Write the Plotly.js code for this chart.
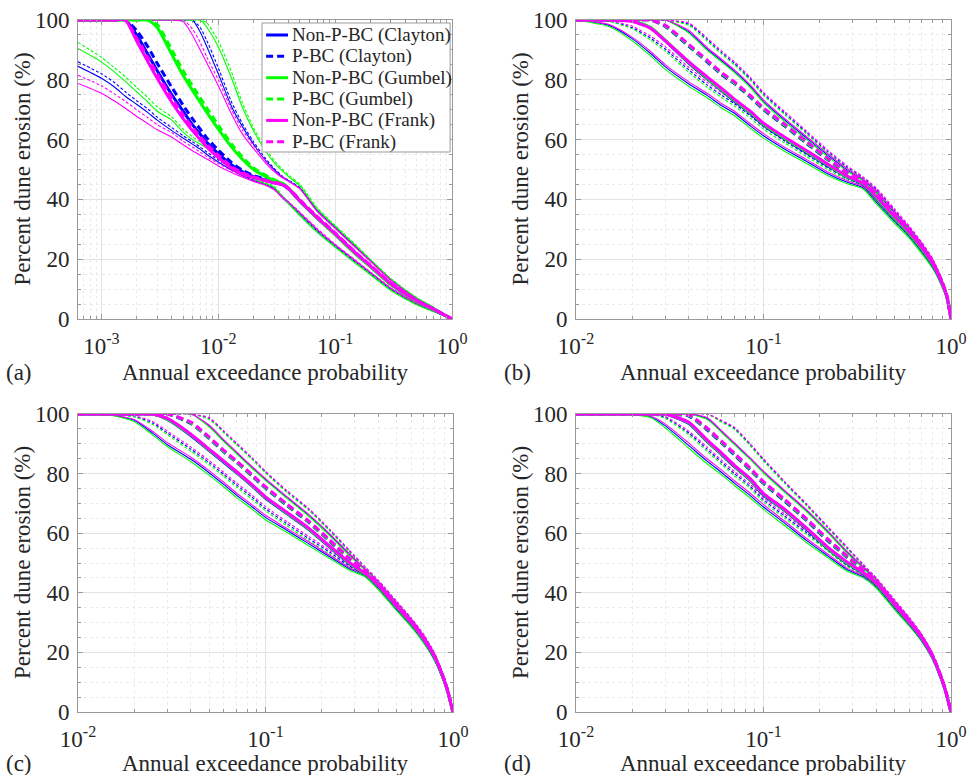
<!DOCTYPE html>
<html>
<head>
<meta charset="utf-8">
<script src="https://cdn.plot.ly/plotly-3.0.1.min.js"></script>
<style>
  html, body { margin: 0; padding: 0; background: #ffffff; }
  #fig { width: 967px; height: 775px; }
</style>
</head>
<body>
<div id="fig"></div>
<script>
// Annual exceedance probabilities at which the erosion curves are sampled
const AEP_A = [0.00063, 0.001, 0.0013, 0.0016, 0.002, 0.0025, 0.003, 0.004, 0.005, 0.006, 0.007, 0.008, 0.01, 0.013, 0.016, 0.02, 0.025, 0.03, 0.035, 0.04, 0.05, 0.07, 0.1, 0.15, 0.2, 0.3, 0.5, 0.7, 1.0];
const AEP_BCD = [0.01, 0.015, 0.02, 0.025, 0.03, 0.04, 0.05, 0.06, 0.07, 0.085, 0.1, 0.13, 0.17, 0.22, 0.28, 0.34, 0.4, 0.5, 0.6, 0.7, 0.8, 0.9, 0.95, 0.975, 1.0];

// ---- Panel (a): percent dune erosion (%) ----
// lower bounds
const A_CLA_NP_LO = [84.5, 80.5, 77.5, 74.5, 71.8, 69, 66.5, 63, 60.5, 58.5, 56.8, 55, 52.5, 49.8, 48, 46.3, 45, 43.6, 40.8, 38.6, 35, 29.5, 24.4, 19, 15.2, 9.9, 5, 2.6, 0];
const A_CLA_PB_LO = [86, 82, 79, 76, 73, 70.2, 67.5, 64, 61.3, 59.3, 57.5, 55.8, 53.2, 50.5, 48.5, 46.6, 45.3, 43.9, 41.2, 39, 35.3, 29.8, 24.7, 19.3, 15.5, 10.1, 5.1, 2.7, 0];
const A_GUM_NP_LO = [90.5, 86, 82.5, 79.5, 76, 72.5, 69.5, 66.5, 62.5, 60, 58.5, 57.2, 54.5, 51, 49, 46.8, 45.2, 44, 41, 38.5, 34.5, 29, 24, 18.5, 14.8, 9.5, 4.7, 2.4, 0];
const A_GUM_PB_LO = [92.5, 87.5, 84, 81, 77.5, 74, 71, 67.5, 63.5, 61, 59.3, 58, 55.3, 51.8, 49.5, 47.2, 45.6, 44.4, 41.5, 39, 35, 29.5, 24.5, 19, 15.2, 9.8, 4.9, 2.5, 0];
const A_FRA_NP_LO = [78.8, 75.5, 72.8, 70.5, 67.8, 65.3, 63.3, 60.8, 58.3, 56.3, 54.8, 53.5, 51.2, 49, 47.5, 46, 44.8, 43.2, 40.8, 39, 35.5, 30, 24.8, 19.4, 15.6, 10.3, 5.2, 2.7, 0];
const A_FRA_PB_LO = [81.5, 78, 75.2, 72.8, 70, 67.3, 65, 62.3, 59.5, 57.5, 55.8, 54.3, 52, 49.6, 48, 46.4, 45, 43.5, 41, 39.2, 35.7, 30.3, 25, 19.6, 15.8, 10.4, 5.3, 2.8, 0];
// medians
const A_CLA_NP_MED = [100, 100, 100, 100, 95, 88.5, 83, 75, 69.5, 65, 61.8, 59, 55.3, 51.5, 49.3, 47.6, 46.5, 45.6, 45, 43.4, 39.3, 33.8, 28.3, 21.8, 17.6, 11.6, 5.9, 3.1, 0];
const A_CLA_PB_MED = [100, 100, 100, 100, 96.5, 91, 85.5, 77.5, 71.5, 67, 63.5, 60.5, 56.5, 52.3, 49.8, 48, 46.8, 45.8, 45.2, 43.7, 39.6, 34.1, 28.6, 22.1, 17.8, 11.8, 6, 3.2, 0];
const A_GUM_NP_MED = [100, 100, 100, 100, 100, 100, 97.5, 88.5, 81.5, 76.5, 72.5, 69, 63.5, 57.5, 53.5, 50, 47.8, 46.3, 45.4, 43.6, 39.4, 33.8, 28.2, 21.7, 17.5, 11.5, 5.8, 3.1, 0];
const A_GUM_PB_MED = [100, 100, 100, 100, 100, 100, 98.5, 90, 83, 78, 74, 70.5, 64.8, 58.5, 54.3, 50.5, 48.2, 46.6, 45.6, 43.8, 39.6, 34, 28.4, 21.9, 17.6, 11.6, 5.9, 3.1, 0];
const A_FRA_NP_MED = [100, 100, 100, 100, 93, 86, 80.5, 72.5, 67, 63, 60, 57.5, 54, 50.5, 48.5, 47.3, 46.3, 45.5, 45, 43.5, 39.5, 34, 28.5, 22, 17.8, 11.8, 6, 3.2, 0];
const A_FRA_PB_MED = [100, 100, 100, 100, 94, 87.5, 82, 74, 68.3, 64.2, 61, 58.4, 54.8, 51, 49, 47.6, 46.5, 45.7, 45.2, 43.8, 39.8, 34.3, 28.8, 22.3, 18, 12, 6.1, 3.3, 0];
// upper bounds
const A_CLA_NP_HI = [100, 100, 100, 100, 100, 100, 100, 100, 100, 100, 96, 91, 82, 71, 64.5, 58.5, 53.3, 50, 47.6, 46.2, 43.7, 36.3, 30.6, 24.1, 19.6, 13.1, 6.8, 3.6, 0];
const A_CLA_PB_HI = [100, 100, 100, 100, 100, 100, 100, 100, 100, 100, 97.5, 93, 84, 72.5, 65.5, 59.3, 54, 50.4, 47.9, 46.4, 43.9, 36.5, 30.8, 24.3, 19.7, 13.2, 6.9, 3.7, 0];
const A_GUM_NP_HI = [100, 100, 100, 100, 100, 100, 100, 100, 100, 100, 100, 97.5, 91, 80.5, 71, 63, 56.5, 52.3, 49.7, 47.6, 44.5, 36.8, 31, 24.5, 19.8, 13.3, 7, 3.8, 0];
const A_GUM_PB_HI = [100, 100, 100, 100, 100, 100, 100, 100, 100, 100, 100, 99, 93, 82.5, 72.5, 64, 57.3, 53, 50.2, 48.1, 45, 37.2, 31.3, 24.8, 20, 13.5, 7.1, 3.9, 0];
const A_FRA_NP_HI = [100, 100, 100, 100, 100, 100, 100, 100, 99.5, 95, 90, 85.5, 78, 68.5, 62, 57, 52.5, 49.3, 47.3, 46, 43.5, 36, 30.3, 23.8, 19.3, 12.9, 6.6, 3.5, 0];
const A_FRA_PB_HI = [100, 100, 100, 100, 100, 100, 100, 100, 100, 97, 92.5, 87.5, 80, 70, 63.3, 58, 53.2, 49.8, 47.6, 46.2, 43.6, 36.2, 30.5, 24, 19.5, 13, 6.7, 3.6, 0];

// ---- Panel (b) ----
const B_CLA_NP_LO = [100, 98.2, 93.7, 88.8, 84.3, 78.6, 74.8, 71.3, 68.8, 64.6, 61.3, 56.8, 52.7, 48.6, 45.7, 43.9, 39.1, 32.6, 27.5, 22.3, 17.2, 10.8, 7, 3.6, 0];
const B_CLA_PB_LO = [100, 99.6, 97.4, 93.9, 90.2, 83.3, 78.3, 74.8, 72, 68, 64.3, 59.5, 55, 50.6, 47, 44.6, 40, 33.3, 28.1, 22.9, 17.7, 11.2, 7.3, 3.8, 0];
const B_GUM_NP_LO = [100, 97.8, 93, 88, 83.5, 77.8, 74, 70.5, 68, 63.8, 60.5, 56, 52, 48, 45.2, 43.5, 38.5, 32, 27, 21.8, 16.8, 10.5, 6.8, 3.5, 0];
const B_GUM_PB_LO = [100, 99.5, 97, 93.3, 89.5, 82.5, 77.5, 74, 71.2, 67.2, 63.5, 58.8, 54.3, 50, 46.5, 44.3, 39.5, 32.8, 27.7, 22.5, 17.4, 11, 7.1, 3.7, 0];
const B_FRA_NP_LO = [100, 98.5, 94.2, 89.5, 85, 79.3, 75.5, 72, 69.5, 65.3, 62, 57.4, 53.3, 49.2, 46.2, 44.3, 39.8, 33.2, 28.1, 22.9, 17.7, 11.2, 7.3, 3.8, 0];
const B_FRA_PB_LO = [100, 99.8, 97.9, 94.6, 91, 84.2, 79.2, 75.7, 72.8, 68.8, 65.1, 60.3, 55.7, 51.2, 47.5, 45, 40.6, 33.9, 28.7, 23.4, 18.1, 11.5, 7.5, 3.9, 0];
const B_CLA_NP_MED = [100, 100, 99.7, 97.4, 93, 85.6, 80.4, 76.4, 72.9, 68.9, 64.9, 60.2, 55.7, 51.3, 47.4, 45.1, 40.4, 33.6, 28.4, 23.2, 18, 11.5, 7.4, 3.9, 0];
const B_CLA_PB_MED = [100, 100, 100, 100, 97.8, 91.2, 86, 81.7, 78.7, 74.2, 70, 64.5, 58.7, 53.3, 48.6, 45.9, 41.3, 34.5, 29.1, 23.9, 18.6, 11.9, 7.7, 4, 0];
const B_GUM_NP_MED = [100, 100, 99.7, 97.5, 93.2, 85.8, 80.6, 76.6, 73.1, 69.1, 65.1, 60.4, 55.9, 51.5, 47.5, 45.2, 40.6, 33.8, 28.6, 23.4, 18.2, 11.6, 7.5, 3.9, 0];
const B_GUM_PB_MED = [100, 100, 100, 100, 98, 91.5, 86.3, 82, 79, 74.5, 70.3, 64.8, 59, 53.5, 48.8, 46, 41.5, 34.7, 29.3, 24.1, 18.8, 12, 7.8, 4.1, 0];
const B_FRA_NP_MED = [100, 100, 99.5, 97.2, 93, 86, 81, 77, 73.5, 69.5, 65.5, 60.8, 56.3, 51.8, 47.8, 45.4, 41, 34.3, 29, 23.8, 18.5, 11.8, 7.7, 4, 0];
const B_FRA_PB_MED = [100, 100, 100, 100, 98.2, 91.8, 86.6, 82.3, 79.3, 74.8, 70.6, 65.1, 59.3, 53.8, 49, 46.2, 41.8, 35, 29.6, 24.4, 19, 12.2, 8, 4.2, 0];
const B_CLA_NP_HI = [100, 100, 100, 100, 100, 96, 90.3, 86.3, 82.8, 77.8, 72.8, 66.5, 60.5, 54.8, 49.8, 46.5, 42.5, 35.5, 30, 24.7, 19.3, 12.4, 8.1, 4.3, 0];
const B_CLA_PB_HI = [100, 100, 100, 100, 100, 98.6, 93.5, 89, 85.5, 80.3, 75.3, 68.8, 62.3, 56, 50.8, 47.2, 43.3, 36.3, 30.6, 25.2, 19.8, 12.8, 8.4, 4.4, 0];
const B_GUM_NP_HI = [100, 100, 100, 100, 100, 95.6, 89.9, 85.9, 82.4, 77.4, 72.4, 66, 60, 54.3, 49.4, 46.2, 42, 35, 29.6, 24.3, 19, 12.2, 7.9, 4.2, 0];
const B_GUM_PB_HI = [100, 100, 100, 100, 100, 98.2, 93, 88.5, 85, 79.8, 74.8, 68.3, 61.8, 55.6, 50.4, 46.9, 42.8, 35.8, 30.2, 24.9, 19.5, 12.6, 8.2, 4.3, 0];
const B_FRA_NP_HI = [100, 100, 100, 100, 100, 96.5, 90.8, 86.8, 83.3, 78.3, 73.3, 67, 61, 55.3, 50.3, 46.8, 43, 36, 30.4, 25.1, 19.7, 12.7, 8.3, 4.4, 0];
const B_FRA_PB_HI = [100, 100, 100, 100, 100, 99, 94, 89.5, 86, 80.8, 75.8, 69.3, 62.8, 56.5, 51.2, 47.5, 43.8, 36.8, 31, 25.6, 20.1, 13, 8.5, 4.5, 0];

// ---- Panel (c) ----
const C_CLA_NP_LO = [100, 99.7, 97.8, 93.6, 89.7, 84.8, 80.3, 76.3, 72.8, 68.8, 65.3, 61, 56.5, 52.1, 48.1, 45.7, 41.5, 34.5, 29, 23.4, 17.4, 9.8, 5.2, 2.4, 0];
const C_CLA_PB_LO = [100, 100, 99.2, 97, 93.6, 88.2, 83.7, 79.7, 76.2, 72, 68.2, 63.2, 58.2, 53.6, 49, 46, 41.9, 34.9, 29.4, 23.8, 17.8, 10, 5.3, 2.5, 0];
const C_GUM_NP_LO = [100, 99.6, 97.4, 93, 89, 84, 79.5, 75.5, 72, 68, 64.5, 60.3, 55.8, 51.5, 47.6, 45.3, 41, 34, 28.5, 23, 17, 9.5, 5, 2.3, 0];
const C_GUM_PB_LO = [100, 100, 99, 96.5, 93, 87.5, 83, 79, 75.5, 71.3, 67.5, 62.5, 57.5, 53, 48.5, 45.7, 41.5, 34.5, 29, 23.5, 17.5, 9.8, 5.2, 2.4, 0];
const C_FRA_NP_LO = [100, 99.8, 98.1, 94.2, 90.4, 85.5, 81, 77, 73.5, 69.5, 66, 61.6, 57.1, 52.6, 48.5, 46, 42, 35, 29.5, 23.9, 17.8, 10.1, 5.4, 2.5, 0];
const C_FRA_PB_LO = [100, 100, 99.4, 97.5, 94.2, 88.9, 84.4, 80.4, 76.9, 72.7, 68.9, 63.9, 58.9, 54.2, 49.5, 46.4, 42.3, 35.3, 29.8, 24.2, 18.1, 10.2, 5.5, 2.6, 0];
const C_CLA_NP_MED = [100, 100, 100, 100, 98.2, 92.8, 87.8, 83.8, 80.3, 75.8, 71.8, 66.6, 61.3, 55.3, 49.8, 46.2, 42.1, 35.1, 29.5, 24, 18, 10.2, 5.5, 2.6, 0];
const C_CLA_PB_MED = [100, 100, 100, 100, 100, 96.8, 91.8, 87.3, 83.8, 79.1, 75.1, 69.3, 63.6, 57.3, 51.1, 46.9, 42.6, 35.6, 29.9, 24.4, 18.4, 10.5, 5.7, 2.7, 0];
const C_GUM_NP_MED = [100, 100, 100, 100, 98.3, 93, 88, 84, 80.5, 76, 72, 66.8, 61.5, 55.5, 50, 46.3, 42.3, 35.3, 29.7, 24.2, 18.2, 10.3, 5.6, 2.6, 0];
const C_GUM_PB_MED = [100, 100, 100, 100, 100, 97, 92, 87.5, 84, 79.3, 75.3, 69.5, 63.8, 57.5, 51.3, 47, 42.8, 35.8, 30.1, 24.6, 18.5, 10.6, 5.8, 2.7, 0];
const C_FRA_NP_MED = [100, 100, 100, 100, 98.5, 93.2, 88.2, 84.2, 80.7, 76.2, 72.2, 67, 61.7, 55.7, 50.2, 46.5, 42.5, 35.5, 29.9, 24.4, 18.4, 10.5, 5.7, 2.7, 0];
const C_FRA_PB_MED = [100, 100, 100, 100, 100, 97.3, 92.3, 87.8, 84.3, 79.6, 75.6, 69.8, 64.1, 57.8, 51.6, 47.2, 43, 36, 30.3, 24.8, 18.7, 10.8, 5.9, 2.8, 0];
const C_CLA_NP_HI = [100, 100, 100, 100, 100, 100, 96, 91, 87, 82, 78, 72, 66, 59.5, 52.8, 47.8, 43.5, 36.5, 30.8, 25.2, 19, 11, 6, 2.8, 0];
const C_CLA_PB_HI = [100, 100, 100, 100, 100, 100, 98.5, 94, 90, 85, 80.5, 74, 68, 61, 54, 48.5, 44, 37, 31.3, 25.7, 19.4, 11.3, 6.2, 3, 0];
const C_GUM_NP_HI = [100, 100, 100, 100, 100, 100, 95.7, 90.7, 86.7, 81.7, 77.7, 71.7, 65.7, 59.2, 52.5, 47.6, 43.3, 36.3, 30.6, 25, 18.8, 10.9, 5.9, 2.8, 0];
const C_GUM_PB_HI = [100, 100, 100, 100, 100, 100, 98.2, 93.7, 89.7, 84.7, 80.2, 73.7, 67.7, 60.7, 53.7, 48.3, 43.8, 36.8, 31.1, 25.5, 19.2, 11.1, 6.1, 2.9, 0];
const C_FRA_NP_HI = [100, 100, 100, 100, 100, 100, 96.3, 91.3, 87.3, 82.3, 78.3, 72.3, 66.3, 59.8, 53.1, 48, 43.7, 36.7, 31, 25.4, 19.2, 11.2, 6.1, 2.9, 0];
const C_FRA_PB_HI = [100, 100, 100, 100, 100, 100, 98.8, 94.3, 90.3, 85.3, 80.8, 74.3, 68.3, 61.3, 54.3, 48.7, 44.2, 37.2, 31.5, 25.9, 19.6, 11.5, 6.3, 3.1, 0];

// ---- Panel (d) ----
const D_CLA_NP_LO = [100, 100, 99.9, 99.1, 96, 89.4, 84.2, 80.3, 76.8, 72.6, 68.8, 63.3, 57.5, 52.4, 47.7, 45.4, 41.9, 34.8, 29.2, 23.9, 17.8, 9.8, 5.2, 2.4, 0];
const D_CLA_PB_LO = [100, 100, 100, 100, 98.8, 93.6, 88.2, 83.7, 80, 75.7, 71.2, 65.7, 60.1, 54.5, 49.2, 46.1, 42.3, 35.1, 29.5, 24.1, 18, 10, 5.3, 2.5, 0];
const D_GUM_NP_LO = [100, 100, 99.8, 98.8, 95.3, 88.5, 83.3, 79.5, 76, 71.8, 68, 62.5, 56.8, 51.8, 47.2, 45, 41.5, 34.3, 28.8, 23.5, 17.5, 9.5, 5, 2.3, 0];
const D_GUM_PB_LO = [100, 100, 100, 100, 98.5, 93, 87.5, 83, 79.3, 75, 70.5, 65, 59.5, 54, 48.8, 45.8, 42, 34.8, 29.2, 23.8, 17.8, 9.8, 5.2, 2.4, 0];
const D_FRA_NP_LO = [100, 100, 100, 99.3, 96.6, 90.2, 85, 81.1, 77.6, 73.4, 69.6, 64, 58.2, 53, 48.2, 45.8, 42.3, 35.2, 29.6, 24.3, 18.1, 10, 5.3, 2.5, 0];
const D_FRA_PB_LO = [100, 100, 100, 100, 99.1, 94.2, 88.9, 84.4, 80.7, 76.4, 71.9, 66.4, 60.7, 55, 49.6, 46.4, 42.6, 35.4, 29.8, 24.4, 18.3, 10.2, 5.4, 2.6, 0];
const D_CLA_NP_MED = [100, 100, 100, 100, 100, 96.8, 90.8, 86.3, 82.3, 77.8, 72.8, 67.6, 61.3, 54.8, 49.8, 46.5, 42.8, 35.6, 29.8, 24.4, 18.2, 10.2, 5.5, 2.6, 0];
const D_CLA_PB_MED = [100, 100, 100, 100, 100, 99.3, 94.7, 90.2, 86.2, 81.2, 76.7, 70.7, 64.2, 57.5, 51.8, 47.3, 43.3, 36.1, 30.3, 24.8, 18.5, 10.4, 5.6, 2.7, 0];
const D_GUM_NP_MED = [100, 100, 100, 100, 100, 97, 91, 86.5, 82.5, 78, 73, 67.8, 61.5, 55, 50, 46.6, 43, 35.8, 30, 24.6, 18.3, 10.3, 5.5, 2.6, 0];
const D_GUM_PB_MED = [100, 100, 100, 100, 100, 99.5, 95, 90.5, 86.5, 81.5, 77, 71, 64.5, 57.8, 52, 47.5, 43.5, 36.3, 30.5, 25, 18.7, 10.6, 5.7, 2.7, 0];
const D_FRA_NP_MED = [100, 100, 100, 100, 100, 97.2, 91.3, 86.8, 82.8, 78.3, 73.3, 68, 61.7, 55.3, 50.3, 46.8, 43.2, 36, 30.2, 24.8, 18.5, 10.4, 5.6, 2.7, 0];
const D_FRA_PB_MED = [100, 100, 100, 100, 100, 99.7, 95.3, 90.8, 86.8, 81.8, 77.3, 71.3, 64.8, 58.1, 52.3, 47.7, 43.7, 36.5, 30.7, 25.2, 18.9, 10.7, 5.8, 2.8, 0];
const D_CLA_NP_HI = [100, 100, 100, 100, 100, 100, 98.5, 94, 90, 85, 80.5, 74, 67.5, 60.5, 53.5, 48.5, 44.3, 37, 31.1, 25.5, 19.1, 10.9, 5.9, 2.8, 0];
const D_CLA_PB_HI = [100, 100, 100, 100, 100, 100, 100, 97.5, 95.2, 89.7, 84.6, 77, 69.5, 62, 55, 49.3, 44.8, 37.5, 31.5, 25.8, 19.4, 11.2, 6.1, 3, 0];
const D_GUM_NP_HI = [100, 100, 100, 100, 100, 100, 98.2, 93.7, 89.7, 84.7, 80.2, 73.7, 67.2, 60.2, 53.2, 48.2, 44, 36.8, 30.9, 25.3, 18.9, 10.8, 5.8, 2.8, 0];
const D_GUM_PB_HI = [100, 100, 100, 100, 100, 100, 100, 97.2, 94.8, 89.3, 84.2, 76.6, 69.1, 61.6, 54.6, 49, 44.6, 37.3, 31.3, 25.6, 19.2, 11.1, 6, 2.9, 0];
const D_FRA_NP_HI = [100, 100, 100, 100, 100, 100, 98.8, 94.3, 90.3, 85.3, 80.8, 74.3, 67.8, 60.8, 53.8, 48.8, 44.5, 37.2, 31.3, 25.7, 19.3, 11, 6, 2.9, 0];
const D_FRA_PB_HI = [100, 100, 100, 100, 100, 100, 100, 97.8, 95.5, 90, 85, 77.3, 69.8, 62.3, 55.3, 49.6, 45, 37.7, 31.7, 26, 19.6, 11.3, 6.2, 3, 0];

// ---- Styling ----
const FAMILIES = ['cla', 'gum', 'fra'];
const COLORS = { cla: '#0000ff', gum: '#00ff00', fra: '#ff00ff' };
const COPULA = { cla: 'Clayton', gum: 'Gumbel', fra: 'Frank' };
const FONT = 'Liberation Serif';
const INK = '#262626';
const W = 967, H = 775;
const THICK = 3, THIN = 1.1;

const PANELS = [
  { label: '(a)', xa: 'x',  ya: 'y',  aep: AEP_A,
    box: [78, 452, 20, 319], xmin: 0.00063, majors: [0.001, 0.01, 0.1, 1],
    sets: {
      cla: { np: [A_CLA_NP_LO, A_CLA_NP_MED, A_CLA_NP_HI], pb: [A_CLA_PB_LO, A_CLA_PB_MED, A_CLA_PB_HI] },
      gum: { np: [A_GUM_NP_LO, A_GUM_NP_MED, A_GUM_NP_HI], pb: [A_GUM_PB_LO, A_GUM_PB_MED, A_GUM_PB_HI] },
      fra: { np: [A_FRA_NP_LO, A_FRA_NP_MED, A_FRA_NP_HI], pb: [A_FRA_PB_LO, A_FRA_PB_MED, A_FRA_PB_HI] } } },
  { label: '(b)', xa: 'x2', ya: 'y2', aep: AEP_BCD,
    box: [576, 951, 20, 319], xmin: 0.01, majors: [0.01, 0.1, 1],
    sets: {
      cla: { np: [B_CLA_NP_LO, B_CLA_NP_MED, B_CLA_NP_HI], pb: [B_CLA_PB_LO, B_CLA_PB_MED, B_CLA_PB_HI] },
      gum: { np: [B_GUM_NP_LO, B_GUM_NP_MED, B_GUM_NP_HI], pb: [B_GUM_PB_LO, B_GUM_PB_MED, B_GUM_PB_HI] },
      fra: { np: [B_FRA_NP_LO, B_FRA_NP_MED, B_FRA_NP_HI], pb: [B_FRA_PB_LO, B_FRA_PB_MED, B_FRA_PB_HI] } } },
  { label: '(c)', xa: 'x3', ya: 'y3', aep: AEP_BCD,
    box: [78, 453, 414, 712], xmin: 0.01, majors: [0.01, 0.1, 1],
    sets: {
      cla: { np: [C_CLA_NP_LO, C_CLA_NP_MED, C_CLA_NP_HI], pb: [C_CLA_PB_LO, C_CLA_PB_MED, C_CLA_PB_HI] },
      gum: { np: [C_GUM_NP_LO, C_GUM_NP_MED, C_GUM_NP_HI], pb: [C_GUM_PB_LO, C_GUM_PB_MED, C_GUM_PB_HI] },
      fra: { np: [C_FRA_NP_LO, C_FRA_NP_MED, C_FRA_NP_HI], pb: [C_FRA_PB_LO, C_FRA_PB_MED, C_FRA_PB_HI] } } },
  { label: '(d)', xa: 'x4', ya: 'y4', aep: AEP_BCD,
    box: [576, 951, 414, 712], xmin: 0.01, majors: [0.01, 0.1, 1],
    sets: {
      cla: { np: [D_CLA_NP_LO, D_CLA_NP_MED, D_CLA_NP_HI], pb: [D_CLA_PB_LO, D_CLA_PB_MED, D_CLA_PB_HI] },
      gum: { np: [D_GUM_NP_LO, D_GUM_NP_MED, D_GUM_NP_HI], pb: [D_GUM_PB_LO, D_GUM_PB_MED, D_GUM_PB_HI] },
      fra: { np: [D_FRA_NP_LO, D_FRA_NP_MED, D_FRA_NP_HI], pb: [D_FRA_PB_LO, D_FRA_PB_MED, D_FRA_PB_HI] } } }
];

const THIN_DASH = '3px,2px';
const THICK_DASH = '7px,4px';

function line(p, y, fam, kind, thick) {
  return {
    type: 'scatter', mode: 'lines', x: p.aep, y: y,
    xaxis: p.xa, yaxis: p.ya, showlegend: false, hoverinfo: 'skip',
    line: { color: COLORS[fam], width: thick ? THICK : THIN,
            dash: kind === 'pb' ? (thick ? THICK_DASH : THIN_DASH) : 'solid',
            shape: 'spline', smoothing: 0.6 }
  };
}

const traces = [];
PANELS.forEach(p => {
  // confidence bounds underneath
  FAMILIES.forEach(f => ['np', 'pb'].forEach(k => {
    const s = p.sets[f][k];
    traces.push(line(p, s[0], f, k, false));
    traces.push(line(p, s[2], f, k, false));
  }));
  // medians on top
  FAMILIES.forEach(f => ['np', 'pb'].forEach(k => {
    traces.push(line(p, p.sets[f][k][1], f, k, true));
  }));
});

function minorTicks(xmin) {
  const out = [];
  for (let e = -4; e < 0; e++) {
    for (let m = 2; m <= 9; m++) {
      const v = m * Math.pow(10, e);
      if (v > xmin * 1.0001 && v < 1) out.push(v);
    }
  }
  return out;
}

const axisCommon = {
  showline: true, linecolor: '#9a9a9a', linewidth: 1, mirror: 'ticks',
  ticks: 'inside', ticklen: 5, tickcolor: '#9a9a9a', tickwidth: 1,
  zeroline: false, showgrid: true, gridcolor: '#e2e2e2', gridwidth: 1,
  tickfont: { family: FONT, size: 23, color: INK }, fixedrange: true
};

const layout = {
  width: W, height: H, margin: { l: 0, r: 0, t: 0, b: 0 },
  font: { family: FONT, color: INK },
  paper_bgcolor: '#ffffff', plot_bgcolor: '#ffffff', showlegend: false,
  annotations: [], shapes: []
};

PANELS.forEach((p, i) => {
  const n = i === 0 ? '' : String(i + 1);
  const [x0, x1, y0, y1] = p.box;
  layout['xaxis' + n] = Object.assign({}, axisCommon, {
    type: 'log', domain: [x0 / W, x1 / W], anchor: p.ya,
    range: [Math.log10(p.xmin), 0],
    tickmode: 'array', tickvals: p.majors, ticklabelstandoff: 6,
    ticktext: p.majors.map(v => '10<sup>' + Math.round(Math.log10(v)) + '</sup>'),
    minor: { tickmode: 'array', tickvals: minorTicks(p.xmin), ticks: 'inside', ticklen: 3,
             tickcolor: '#9a9a9a', showgrid: true, gridcolor: '#ebebeb', griddash: 'dot' }
  });
  layout['yaxis' + n] = Object.assign({}, axisCommon, {
    domain: [1 - y1 / H, 1 - y0 / H], anchor: p.xa, range: [0, 100],
    tickmode: 'array', tickvals: [0, 20, 40, 60, 80, 100], ticklabelstandoff: 3,
    minor: { dtick: 5, ticks: 'inside', ticklen: 3, tickcolor: '#9a9a9a',
             showgrid: true, gridcolor: '#ebebeb', griddash: 'dot' }
  });

  const cx = (x0 + x1) / 2, cy = (y0 + y1) / 2;
  const titleY = i < 2 ? y1 + 53 : y1 + 51;
  const ylabX = x0 - 56;
  layout.annotations.push(
    { xref: 'paper', yref: 'paper', x: cx / W, y: 1 - titleY / H, xanchor: 'center', yanchor: 'middle',
      text: 'Annual exceedance probability', showarrow: false, font: { family: FONT, size: 23, color: INK } },
    { xref: 'paper', yref: 'paper', x: ylabX / W, y: 1 - cy / H, xanchor: 'center', yanchor: 'middle',
      text: 'Percent dune erosion (%)', textangle: -90, showarrow: false, font: { family: FONT, size: 23, color: INK } },
    { xref: 'paper', yref: 'paper', x: (x0 - 59) / W, y: 1 - titleY / H, xanchor: 'center', yanchor: 'middle',
      text: p.label, showarrow: false, font: { family: FONT, size: 23, color: INK } }
  );
});

// Legend box inside panel (a)
const LEG = [
  ['cla', 'np'], ['cla', 'pb'], ['gum', 'np'], ['gum', 'pb'], ['fra', 'np'], ['fra', 'pb']
];
layout.shapes.push({ type: 'rect', xref: 'x domain', yref: 'y domain', x0: 0.492, x1: 0.995, y0: 0.5585, y1: 0.99,
  line: { color: '#9a9a9a', width: 1 }, fillcolor: '#ffffff', layer: 'above' });
LEG.forEach(([f, k], i) => {
  const yy = 0.9498 - i * 0.0714;
  layout.shapes.push({ type: 'line', xref: 'x domain', yref: 'y domain', x0: 0.503, x1: 0.5615, y0: yy, y1: yy,
    line: { color: COLORS[f], width: THICK, dash: k === 'pb' ? THICK_DASH : 'solid' }, layer: 'above' });
  layout.annotations.push({ xref: 'x domain', yref: 'y domain', x: 0.5668, y: yy, xanchor: 'left', yanchor: 'middle',
    text: (k === 'np' ? 'Non-P-BC' : 'P-BC') + ' (' + COPULA[f] + ')', showarrow: false,
    font: { family: FONT, size: 19, color: INK } });
});

Plotly.newPlot('fig', traces, layout, { staticPlot: true, displayModeBar: false });
</script>
</body>
</html>
